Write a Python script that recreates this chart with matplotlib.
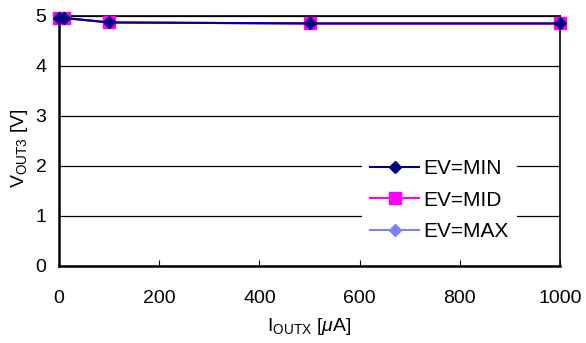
import matplotlib
matplotlib.use("Agg")
import matplotlib.pyplot as plt

plt.rcParams["font.family"] = ["Liberation Sans", "DejaVu Sans"]
plt.rcParams["mathtext.fontset"] = "custom"
plt.rcParams["mathtext.rm"] = "Liberation Sans"
plt.rcParams["mathtext.it"] = "Liberation Sans:italic"

# data
iout = [0, 10, 100, 500, 1000]
v_min = [4.96, 4.96, 4.87, 4.85, 4.85]
v_mid = [4.96, 4.96, 4.87, 4.85, 4.85]
v_max = [4.96, 4.96, 4.87, 4.85, 4.85]

x_ticks = [0, 200, 400, 600, 800, 1000]
y_ticks = [0, 1, 2, 3, 4, 5]

fig = plt.figure(figsize=(5.86, 3.43), dpi=100)
ax = fig.add_axes([0.1007, 0.2245, 0.855, 0.729])

l_max, = ax.plot(iout, v_max, color="#8080FF", marker="D", markersize=6,
                 linewidth=1.5, clip_on=False, zorder=3)
l_mid, = ax.plot(iout, v_mid, color="#FF00FF", marker="s", markersize=8,
                 linewidth=1.5, clip_on=False, zorder=4)
l_min, = ax.plot(iout, v_min, color="#000080", marker="D", markersize=6,
                 linewidth=1.5, clip_on=False, zorder=5)

ax.set_xlim(0, 1000)
ax.set_ylim(0, 5)
ax.set_xticks(x_ticks)
ax.set_yticks(y_ticks)
ax.yaxis.grid(True, color="black", linewidth=0.9)
ax.set_axisbelow(True)

ax.tick_params(axis="x", direction="in", length=4, pad=17, labelsize=14)
ax.tick_params(axis="y", direction="in", length=0, pad=9, labelsize=14)

for side in ["left", "bottom"]:
    ax.spines[side].set_linewidth(1.8)
for side in ["top", "right"]:
    ax.spines[side].set_linewidth(1.2)

ax.set_xlabel(r"I$_{\mathregular{OUTX}}$ [$\mathit{\mu}$A]", fontsize=14, labelpad=7)
ax.set_ylabel(r"V$_{\mathregular{OUT3}}$ [V]", fontsize=14)
ax.yaxis.set_label_coords(-0.058, 0.47)

leg = ax.legend([l_min, l_mid, l_max], ["EV=MIN", "EV=MID", "EV=MAX"],
                loc="center right", bbox_to_anchor=(0.935, 0.263), fontsize=15,
                frameon=True, fancybox=False, handlelength=2.35,
                labelspacing=0.6, borderpad=0.4, handletextpad=0.2)
leg.get_frame().set_edgecolor("none")
leg.get_frame().set_facecolor("white")
leg.get_frame().set_alpha(1)

fig.savefig("out.png", dpi=100)
